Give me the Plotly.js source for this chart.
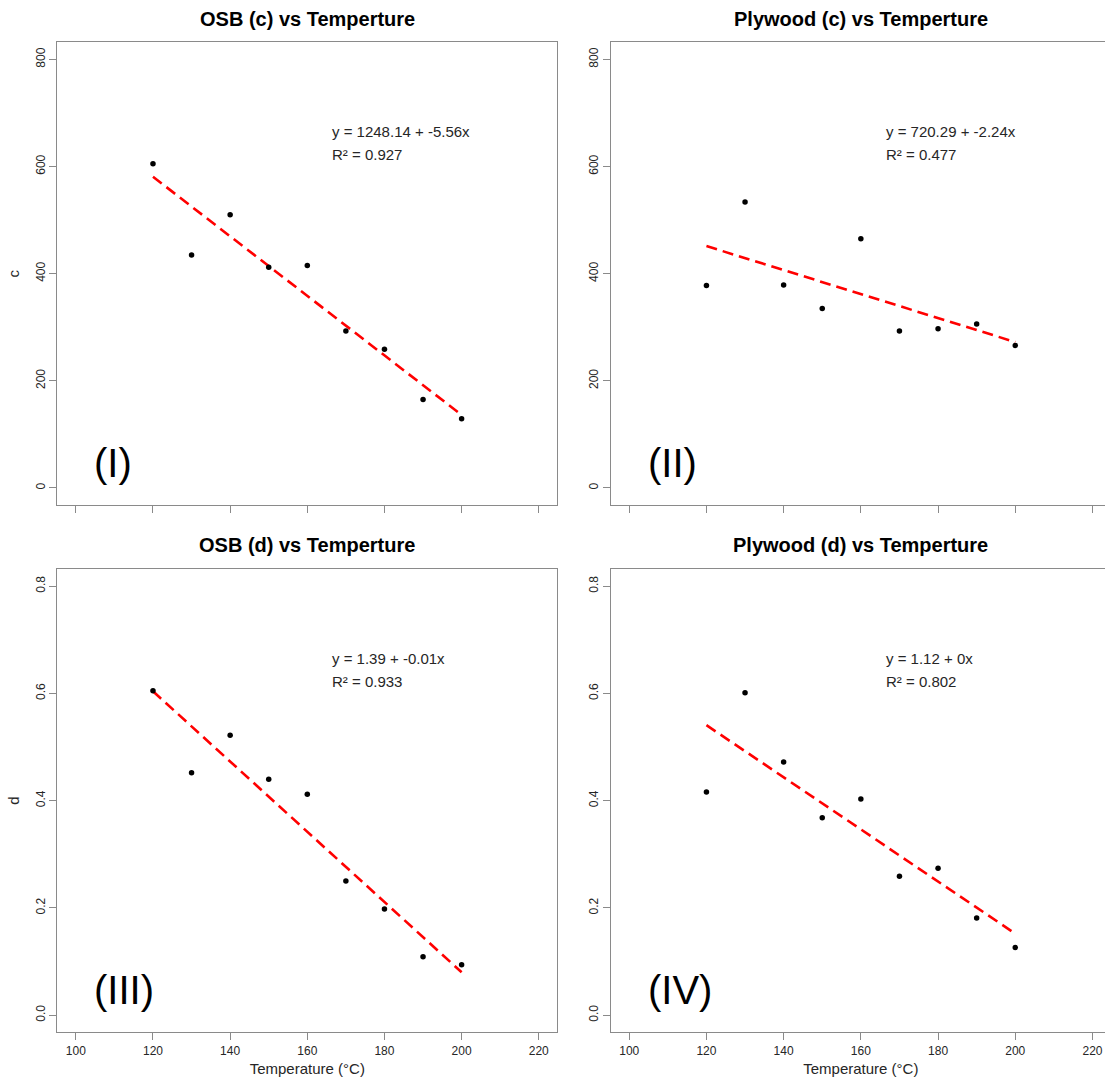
<!DOCTYPE html>
<html>
<head>
<meta charset="utf-8">
<script src="https://cdn.plot.ly/plotly-3.0.1.min.js"></script>
<style>
  html, body { margin: 0; padding: 0; background: #ffffff; overflow: hidden; }
  #chart { width: 1115px; height: 1085px; }
</style>
</head>
<body>
<div id="chart"></div>
<script>
// Press temperature (°C) for every specimen group
const temperature = [120, 130, 140, 150, 160, 170, 180, 190, 200];

// Fitted parameter c
const osbC     = [605, 435, 510, 412, 415, 293, 259, 165, 129];
const plywoodC = [378, 534, 379, 335, 465, 293, 297, 306, 266];

// Fitted parameter d
const osbD     = [0.605, 0.452, 0.522, 0.440, 0.412, 0.250, 0.198, 0.109, 0.094];
const plywoodD = [0.416, 0.601, 0.472, 0.368, 0.403, 0.259, 0.274, 0.181, 0.126];

// Linear regression of each series on temperature
const fitIntercepts = [1248.14, 720.29, 1.39, 1.124];
const fitSlopes     = [-5.56, -2.24, -0.00655, -0.00486];
const fitRange      = [120, 200];
const equationLabels = ['y = 1248.14 + -5.56x', 'y = 720.29 + -2.24x', 'y = 1.39 + -0.01x', 'y = 1.12 + 0x'];
const rSquaredLabels = ['0.927', '0.477', '0.933', '0.802'];

const panelTitles = ['OSB (c) vs Temperture', 'Plywood (c) vs Temperture',
                     'OSB (d) vs Temperture', 'Plywood (d) vs Temperture'];
const panelTags   = ['(I)', '(II)', '(III)', '(IV)'];

// Axis ticks
const xTicks = [100, 120, 140, 160, 180, 200, 220];
const cTicks = [0, 200, 400, 600, 800];
const dTicks = [0, 0.2, 0.4, 0.6, 0.8];
const dTickLabels = ['0.0', '0.2', '0.4', '0.6', '0.8'];

const W = 1115, H = 1085;
const FONT = 'Liberation Sans, Arial, Helvetica, sans-serif';
const AXIS_GREY = '#8a8a8a';
const TEXT_COL = '#262626';

// Plot boxes in pixels: [left, right] and [top, bottom]
const colPx = [[57.3, 557.3], [610.7, 1111.0]];
const rowPx = [[42.3, 505.0], [569.0, 1032.3]];
const xDom = c => [colPx[c][0] / W, colPx[c][1] / W];
const yDom = r => [(H - rowPx[r][1]) / H, (H - rowPx[r][0]) / H];

const seriesList = [osbC, plywoodC, osbD, plywoodD];
const traces = [];
const annotations = [];
const layout = {
  width: W, height: H,
  margin: {l: 0, r: 0, t: 0, b: 0},
  paper_bgcolor: '#ffffff', plot_bgcolor: '#ffffff',
  showlegend: false,
  font: {family: FONT, color: TEXT_COL},
  annotations: annotations
};

for (let i = 0; i < 4; i++) {
  const row = Math.floor(i / 2), col = i % 2;
  const n = i + 1;
  const xa = n === 1 ? 'x' : 'x' + n;
  const ya = n === 1 ? 'y' : 'y' + n;
  const isC = row === 0;

  // Fit line across the measured temperature span
  traces.push({
    type: 'scatter', mode: 'lines', xaxis: xa, yaxis: ya,
    x: fitRange,
    y: fitRange.map(t => fitIntercepts[i] + fitSlopes[i] * t),
    line: {color: '#ff0000', width: 2.6, dash: '11px,6px'},
    hoverinfo: 'skip'
  });
  // Observations
  traces.push({
    type: 'scatter', mode: 'markers', xaxis: xa, yaxis: ya,
    x: temperature, y: seriesList[i],
    marker: {color: '#000000', size: 5.5}
  });

  const xKey = n === 1 ? 'xaxis' : 'xaxis' + n;
  const yKey = n === 1 ? 'yaxis' : 'yaxis' + n;
  const xAxis = {
    domain: xDom(col), anchor: ya,
    range: [95.2, 224.8], tickmode: 'array', tickvals: xTicks,
    showticklabels: row === 1,
    ticks: 'outside', ticklen: 7, tickwidth: 1, tickcolor: AXIS_GREY,
    showline: true, mirror: true, linecolor: AXIS_GREY, linewidth: 1,
    showgrid: false, zeroline: false,
    tickfont: {size: 12, family: FONT, color: TEXT_COL}
  };
  if (row === 1) {
    xAxis.title = {text: 'Temperature (°C)', font: {size: 15, family: FONT, color: TEXT_COL}, standoff: 6};
  }
  const yAxis = {
    domain: yDom(row), anchor: xa,
    range: isC ? [-32, 832] : [-0.032, 0.832],
    tickmode: 'array', tickvals: isC ? cTicks : dTicks,
    ticktext: isC ? cTicks.map(String) : dTickLabels,
    tickangle: -90,
    ticks: 'outside', ticklen: 7, tickwidth: 1, tickcolor: AXIS_GREY,
    showline: true, mirror: true, linecolor: AXIS_GREY, linewidth: 1,
    showgrid: false, zeroline: false,
    tickfont: {size: 12, family: FONT, color: TEXT_COL}
  };
  if (col === 0) {
    yAxis.title = {text: isC ? 'c' : 'd', font: {size: 15, family: FONT, color: TEXT_COL}, standoff: 10};
  }
  layout[xKey] = xAxis;
  layout[yKey] = yAxis;

  // Panel title
  annotations.push({
    xref: 'paper', yref: 'paper',
    x: (colPx[col][0] + colPx[col][1]) / 2 / W,
    y: (H - (rowPx[row][0] - 23.6)) / H,
    xanchor: 'center', yanchor: 'middle', showarrow: false,
    text: '<b>' + panelTitles[i] + '</b>',
    font: {size: 20, family: FONT, color: '#000000'}
  });
  // Regression equation and R²
  const unit = isC ? 1 : 0.001;
  annotations.push({
    xref: xa, yref: ya, x: 166, y: 665 * unit,
    xanchor: 'left', yanchor: 'middle', showarrow: false,
    text: equationLabels[i],
    font: {size: 15, family: FONT, color: TEXT_COL}
  });
  annotations.push({
    xref: xa, yref: ya, x: 166, y: 623 * unit,
    xanchor: 'left', yanchor: 'middle', showarrow: false,
    text: 'R² = ' + rSquaredLabels[i],
    font: {size: 15, family: FONT, color: TEXT_COL}
  });
  // Panel tag
  annotations.push({
    xref: xa, yref: ya, x: 104.3, y: 46 * unit,
    xanchor: 'left', yanchor: 'middle', showarrow: false,
    text: panelTags[i],
    font: {size: 40, family: FONT, color: '#000000'}
  });
}

Plotly.newPlot('chart', traces, layout, {displayModeBar: false, staticPlot: true});
</script>
</body>
</html>
